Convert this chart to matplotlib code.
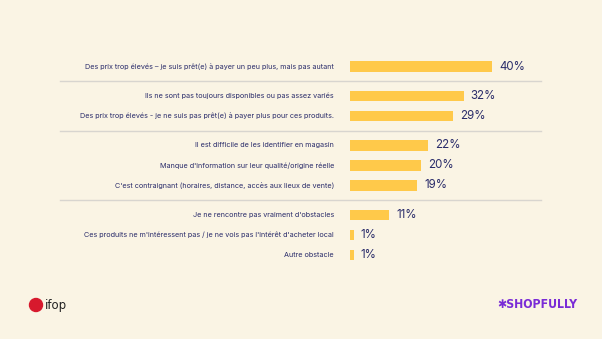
import matplotlib.pyplot as plt
from matplotlib.patches import Circle
from matplotlib.transforms import IdentityTransform

# obstacles a l'achat local, en % de repondants
labels = [
    "Des prix trop élevés – je suis prêt(e) à payer un peu plus, mais pas autant",
    "Ils ne sont pas toujours disponibles ou pas assez variés",
    "Des prix trop élevés - je ne suis pas prêt(e) à payer plus pour ces produits.",
    "Il est difficile de les identifier en magasin",
    "Manque d'information sur leur qualité/origine réelle",
    "C'est contraignant (horaires, distance, accès aux lieux de vente)",
    "Je ne rencontre pas vraiment d'obstacles",
    "Ces produits ne m'intéressent pas / je ne vois pas l'intérêt d'acheter local",
    "Autre obstacle",
]
values = [40, 32, 29, 22, 20, 19, 11, 1, 1]
groups = [0, 1, 1, 2, 2, 2, 3, 3, 3]

BG = "#FAF4E4"
BAR = "#FFC94A"
TXT = "#2A2C6A"
SEP = "#D8D5CF"

fig = plt.figure(figsize=(6.02, 3.39), dpi=100, facecolor=BG)

# axes in pixel-like units: x from 350px to 542px, y from 50px to 270px
ax = fig.add_axes([350 / 602, 1 - 270 / 339, 192 / 602, 220 / 339])
ax.set_facecolor(BG)
ax.set_xlim(0, 192 / 3.55)
ax.set_ylim(270, 50)
ax.axis("off")

ypos = [66.5 + i * 20 + g * 9.5 for i, g in enumerate(groups)]
ax.barh(ypos, values, height=10.5, color=BAR, edgecolor="none")

for y, v, lab in zip(ypos, values, labels):
    ax.text(v + 2.0, y, f"{v}%", va="center", ha="left", color=TXT,
            fontsize=8.3, family="Inter")
    ax.annotate(lab, xy=(0, y), xytext=(-16, 0), textcoords="offset pixels",
                va="center", ha="right", color=TXT, fontsize=5.2,
                family="Inter", annotation_clip=False)

# separators between groups
for i in range(1, len(groups)):
    if groups[i] != groups[i - 1]:
        ysep = (ypos[i] + ypos[i - 1]) / 2
        fig.add_artist(plt.Line2D([60 / 602, 541 / 602],
                                  [1 - ysep / 339, 1 - ysep / 339],
                                  color=SEP, lw=1.0))

# logos
fig.add_artist(Circle((36, 339 - 305), 6.5, transform=IdentityTransform(),
                      color="#D7192D", zorder=3))
fig.text(45 / 602, 1 - 305 / 339, "ifop", ha="left", va="center", color="#222222",
         fontsize=8.5, family="DejaVu Sans")
fig.text(497 / 602, 1 - 305 / 339, "✱SHOPFULLY", ha="left", va="center",
         color="#7A2BD6", fontsize=8.8, fontweight="heavy", family="DejaVu Sans",
         fontstretch="condensed")

fig.savefig("out.png", dpi=100, facecolor=BG)
